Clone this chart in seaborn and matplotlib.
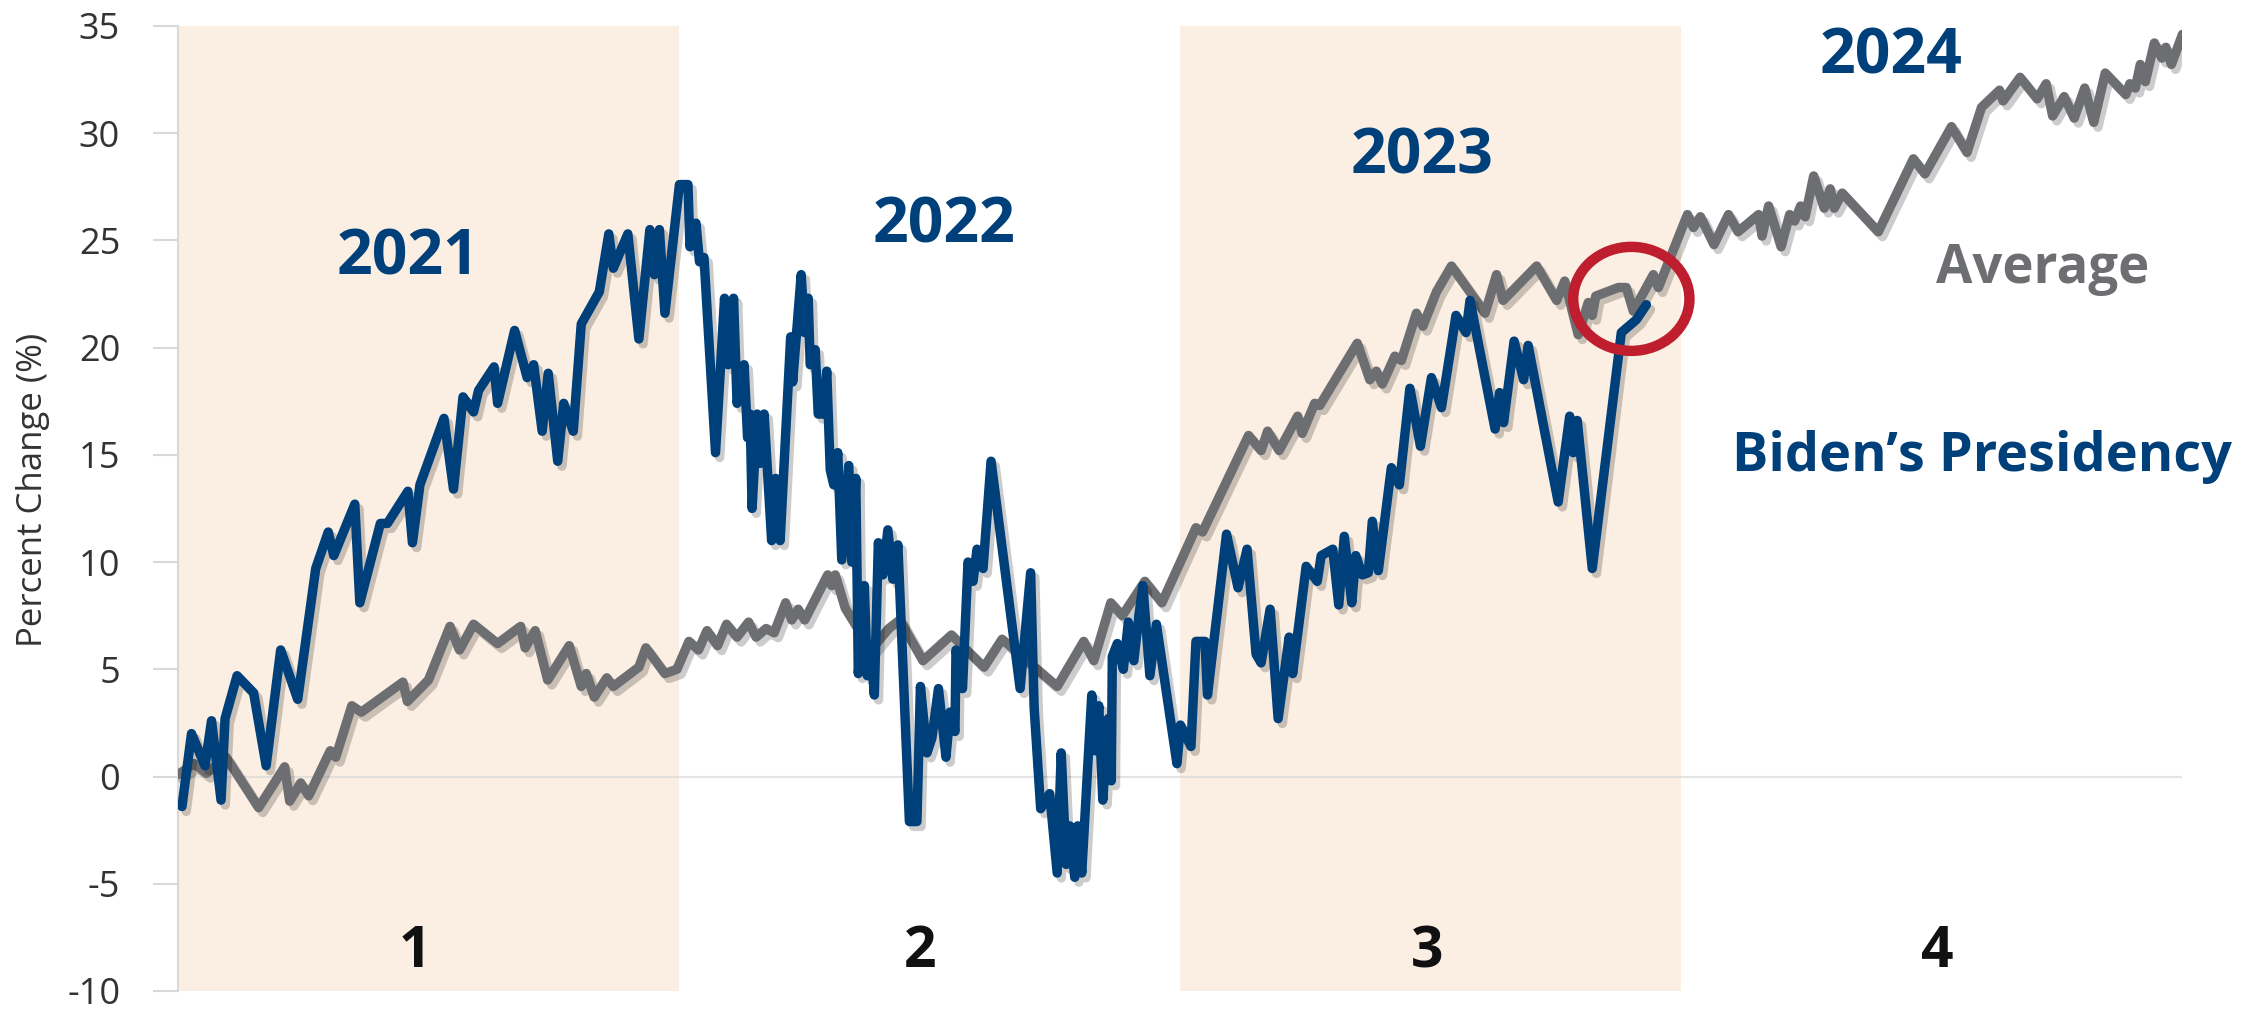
import matplotlib
matplotlib.use("Agg")
import matplotlib.pyplot as plt
import matplotlib.patheffects as pe
from matplotlib.patches import Ellipse
import pandas as pd
import seaborn as sns

# values (x = years since inauguration)
biden_years = [
    0.007, 0.026, 0.053, 0.066, 0.085, 0.093, 0.117, 0.150, 0.175, 0.204,
    0.238, 0.274, 0.299, 0.310, 0.352, 0.362, 0.403, 0.417, 0.458, 0.467,
    0.482, 0.530, 0.549, 0.568, 0.589, 0.599, 0.630, 0.637, 0.671, 0.696,
    0.709, 0.726, 0.738, 0.757, 0.769, 0.788, 0.804, 0.840, 0.859, 0.868,
    0.897, 0.919, 0.941, 0.950, 0.960, 0.971, 1.000, 1.017, 1.021, 1.033,
    1.040, 1.049, 1.072, 1.090, 1.097, 1.108, 1.115, 1.129, 1.136, 1.141,
    1.145, 1.155, 1.161, 1.169, 1.184, 1.192, 1.201, 1.222, 1.226, 1.243,
    1.250, 1.257, 1.261, 1.271, 1.277, 1.287, 1.294, 1.301, 1.308, 1.316,
    1.324, 1.338, 1.344, 1.352, 1.357, 1.369, 1.375, 1.382, 1.389, 1.397,
    1.406, 1.416, 1.426, 1.436, 1.459, 1.474, 1.481, 1.494, 1.504, 1.517,
    1.532, 1.540, 1.550, 1.552, 1.565, 1.576, 1.586, 1.594, 1.606, 1.622,
    1.680, 1.701, 1.708, 1.721, 1.739, 1.754, 1.762, 1.772, 1.779, 1.789,
    1.795, 1.803, 1.823, 1.830, 1.837, 1.845, 1.856, 1.862, 1.864, 1.874,
    1.886, 1.896, 1.907, 1.917, 1.925, 1.939, 1.952, 1.993, 2.000, 2.021,
    2.031, 2.049, 2.054, 2.092, 2.115, 2.133, 2.151, 2.161, 2.179, 2.195,
    2.217, 2.224, 2.251, 2.273, 2.281, 2.304, 2.316, 2.327, 2.342, 2.350,
    2.363, 2.375, 2.383, 2.395, 2.421, 2.437, 2.458, 2.479, 2.501, 2.521,
    2.550, 2.570, 2.578, 2.628, 2.637, 2.645, 2.666, 2.685, 2.694, 2.754,
    2.777, 2.784, 2.792, 2.822, 2.880, 2.910, 2.930,
]
biden_change = [
    -1.4, 2.0, 0.5, 2.6, -1.1, 2.7, 4.7, 3.9, 0.5, 5.9,
    3.6, 9.7, 11.4, 10.3, 12.7, 8.1, 11.8, 11.8, 13.3, 10.9,
    13.6, 16.7, 13.4, 17.7, 17.0, 18.0, 19.1, 17.4, 20.8, 18.6,
    19.2, 16.1, 18.8, 14.7, 17.4, 16.1, 21.1, 22.6, 25.3, 23.7,
    25.3, 20.4, 25.5, 23.4, 25.5, 21.6, 27.6, 27.6, 24.7, 25.8,
    24.0, 24.2, 15.1, 22.3, 19.2, 22.3, 17.4, 19.2, 15.8, 16.9,
    12.5, 16.9, 14.6, 16.9, 11.0, 13.9, 11.0, 20.5, 18.4, 23.4,
    20.7, 22.3, 19.2, 19.9, 16.9, 16.9, 18.9, 14.3, 13.6, 15.1,
    10.1, 14.5, 10.0, 13.9, 4.8, 8.9, 4.7, 6.0, 3.8, 10.9,
    9.4, 11.5, 9.2, 10.8, -2.1, -2.1, 4.2, 1.1, 1.8, 4.1,
    0.9, 3.0, 2.1, 5.9, 4.1, 10.0, 9.1, 10.6, 9.7, 14.7,
    4.1, 9.5, 3.2, -1.5, -0.8, -4.5, 1.1, -4.1, -2.3, -4.7,
    -2.3, -4.5, 3.8, 1.2, 3.3, -1.1, 2.7, -0.2, 5.6, 6.2,
    5.0, 7.2, 5.4, 7.5, 8.9, 4.7, 7.1, 0.6, 2.4, 1.4,
    6.3, 6.3, 3.8, 11.3, 8.8, 10.6, 5.7, 5.3, 7.8, 2.7,
    6.5, 4.8, 9.8, 9.1, 10.3, 10.6, 8.0, 11.2, 8.1, 10.3,
    9.4, 9.5, 11.9, 9.6, 14.4, 13.6, 18.1, 15.4, 18.6, 17.2,
    21.5, 20.7, 22.2, 16.2, 17.9, 16.5, 20.3, 18.5, 20.1, 12.8,
    16.8, 15.1, 16.6, 9.7, 20.7, 21.3, 22.0,
]

avg_years = [
    0.000, 0.031, 0.056, 0.095, 0.160, 0.212, 0.222, 0.244, 0.260, 0.303,
    0.314, 0.346, 0.365, 0.448, 0.457, 0.499, 0.542, 0.561, 0.589, 0.637,
    0.683, 0.692, 0.712, 0.737, 0.780, 0.804, 0.814, 0.830, 0.855, 0.868,
    0.919, 0.933, 0.971, 0.995, 1.019, 1.038, 1.055, 1.076, 1.094, 1.115,
    1.138, 1.153, 1.173, 1.189, 1.212, 1.224, 1.237, 1.250, 1.296, 1.304,
    1.311, 1.331, 1.382, 1.418, 1.440, 1.486, 1.543, 1.608, 1.644, 1.754,
    1.807, 1.827, 1.861, 1.884, 1.929, 1.963, 2.031, 2.044, 2.136, 2.161,
    2.174, 2.197, 2.234, 2.243, 2.268, 2.278, 2.353, 2.378, 2.391, 2.403,
    2.428, 2.441, 2.471, 2.484, 2.511, 2.541, 2.608, 2.631, 2.644, 2.711,
    2.751, 2.767, 2.794, 2.814, 2.822, 2.829, 2.874, 2.890, 2.904, 2.944,
    2.954, 3.012, 3.024, 3.038, 3.065, 3.094, 3.113, 3.154, 3.161, 3.174,
    3.199, 3.216, 3.226, 3.238, 3.247, 3.264, 3.285, 3.297, 3.305, 3.321,
    3.393, 3.463, 3.486, 3.539, 3.570, 3.599, 3.635, 3.642, 3.676, 3.710,
    3.728, 3.741, 3.764, 3.784, 3.805, 3.823, 3.846, 3.887, 3.895, 3.906,
    3.916, 3.926, 3.944, 3.959, 3.967, 3.978, 4.000,
]
avg_change = [
    0.1, 0.6, 0.15, 0.9, -1.45, 0.45, -1.15, -0.3, -0.9, 1.2,
    0.9, 3.3, 3.0, 4.4, 3.5, 4.5, 7.0, 5.9, 7.1, 6.2,
    7.0, 6.0, 6.8, 4.5, 6.1, 4.2, 4.8, 3.7, 4.6, 4.2,
    5.1, 6.0, 4.8, 5.0, 6.3, 5.9, 6.8, 6.1, 7.1, 6.5,
    7.2, 6.5, 6.9, 6.7, 8.1, 7.3, 7.8, 7.3, 9.4, 8.9,
    9.4, 7.85, 5.9, 6.9, 7.3, 5.4, 6.6, 5.1, 6.4, 4.2,
    6.3, 5.4, 8.1, 7.5, 9.1, 8.1, 11.6, 11.4, 15.9, 15.2,
    16.1, 15.2, 16.8, 16.0, 17.4, 17.3, 20.2, 18.5, 18.9, 18.3,
    19.6, 19.4, 21.6, 21.0, 22.6, 23.8, 21.6, 23.4, 22.2, 23.8,
    22.2, 23.1, 20.6, 22.1, 21.5, 22.4, 22.8, 22.8, 21.7, 23.4,
    22.8, 26.2, 25.6, 26.1, 24.8, 26.2, 25.4, 26.2, 25.2, 26.6,
    24.7, 26.2, 25.9, 26.6, 26.1, 28.0, 26.5, 27.4, 26.5, 27.2,
    25.4, 28.8, 28.1, 30.3, 29.1, 31.2, 32.0, 31.5, 32.6, 31.6,
    32.3, 30.8, 31.7, 30.7, 32.1, 30.5, 32.8, 31.8, 32.3, 32.1,
    33.2, 32.4, 34.2, 33.5, 34.0, 33.2, 34.6,
]

year_labels = ["2021", "2022", "2023", "2024"]
term_labels = ["1", "2", "3", "4"]
y_ticks = [-10, -5, 0, 5, 10, 15, 20, 25, 30, 35]

blue = "#00407a"
gray = "#6d6e71"
band = "#fbeee2"

sns.set_theme(style="white")
plt.rcParams["font.family"] = ["Open Sans", "DejaVu Sans"]
plt.rcParams["axes.unicode_minus"] = False

fig = plt.figure(figsize=(22.59, 10.14), dpi=100)
ax = fig.add_axes([0.079, 0.0227, 0.8871, 0.9518])

# shaded years 1 and 3
ax.axvspan(0, 1, color=band, lw=0, zorder=0)
ax.axvspan(2, 3, color=band, lw=0, zorder=0)
ax.axhline(0, color="#d9d9d9", lw=1.5, zorder=0.5, alpha=0.7)

shadow = [pe.SimpleLineShadow(offset=(3, -3.5), shadow_color="black", alpha=0.2),
          pe.Normal()]

avg = pd.DataFrame({"year": avg_years, "change": avg_change})
sns.lineplot(data=avg, x="year", y="change", ax=ax, color=gray, lw=6.8,
             estimator=None, sort=False, zorder=3)
ax.lines[-1].set_path_effects(shadow)
ax.lines[-1].set_solid_joinstyle("round")

biden = pd.DataFrame({"year": biden_years, "change": biden_change})
sns.lineplot(data=biden, x="year", y="change", ax=ax, color=blue, lw=6.8,
             estimator=None, sort=False, zorder=4)
ax.lines[-1].set_path_effects(shadow)
ax.lines[-1].set_solid_joinstyle("round")

ax.add_patch(Ellipse((2.900, 22.27), width=0.232, height=4.85, fill=False,
                     edgecolor="#be1e2d", lw=7.5, zorder=5))

# annotations
year_pos = [(0.458, 23.4), (1.528, 24.9), (2.483, 28.1), (3.419, 32.8)]
for lab, (x, y) in zip(year_labels, year_pos):
    ax.text(x, y, lab, color=blue, fontsize=45, fontweight="bold",
            ha="center", va="baseline")
term_x = [0.472, 1.481, 2.492, 3.511]
for lab, x in zip(term_labels, term_x):
    ax.text(x, -8.9, lab, color="#111111", fontsize=41,
            fontweight="bold", ha="center", va="baseline")
ax.text(3.720, 23.0, "Average", color=gray, fontsize=38, fontweight="bold",
        ha="center", va="baseline")
ax.text(3.599, 14.24, "Biden\u2019s Presidency", color=blue, fontsize=39,
        fontweight="bold", ha="center", va="baseline")

ax.set_xlim(0, 4.0)
ax.set_ylim(-10, 35)
ax.set_xticks([])
ax.set_yticks(y_ticks)
ax.set_yticklabels([str(t) for t in y_ticks])
ax.tick_params(axis="y", left=True, length=18, width=1.5, color="#d9d9d9",
               pad=24, labelsize=26, labelcolor="#333333")
ax.set_xlabel("")
ax.set_ylabel("")
for side in ["top", "right", "bottom"]:
    ax.spines[side].set_visible(False)
ax.spines["left"].set_color("#d9d9d9")
ax.spines["left"].set_linewidth(1.5)

fig.text(33 / 2259, 1 - 490 / 1014, "Percent Change (%)", rotation=90,
         ha="center", va="center", fontsize=25, color="#333333")

fig.savefig("out.png", dpi=100)
